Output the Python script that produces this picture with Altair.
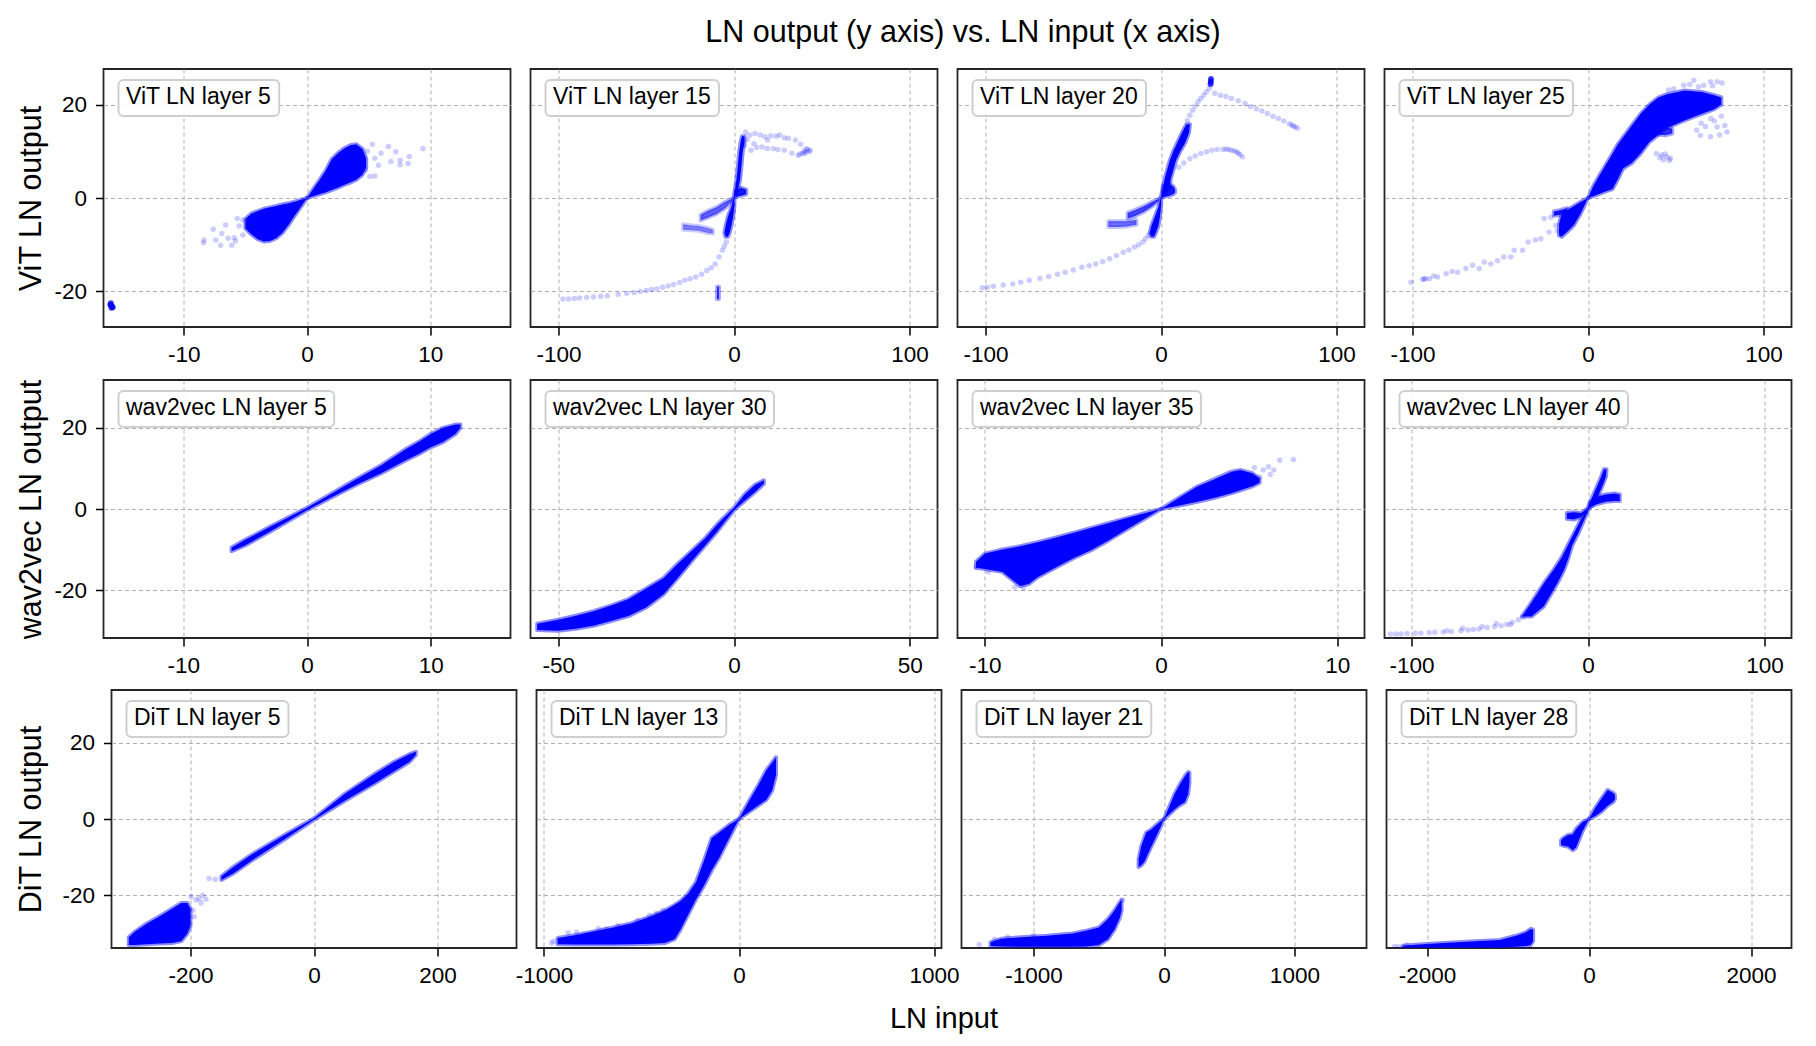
import altair as alt
import pandas as pd

FONT = "Liberation Sans"
BLUE = "#0000ff"

# ------------------------------------------------------------------
# Layout text / axes
# ------------------------------------------------------------------
TITLE = "LN output (y axis) vs. LN input (x axis)"
XTITLE = "LN input"
ROW_TITLES = ["ViT LN output", "wav2vec LN output", "DiT LN output"]
PANEL_LABELS = [
    ["ViT LN layer 5", "ViT LN layer 15", "ViT LN layer 20", "ViT LN layer 25"],
    ["wav2vec LN layer 5", "wav2vec LN layer 30", "wav2vec LN layer 35", "wav2vec LN layer 40"],
    ["DiT LN layer 5", "DiT LN layer 13", "DiT LN layer 21", "DiT LN layer 28"],
]
X_LIMITS = [[16.5, 116, 116, 116], [16.45, 57.9, 11.55, 115.3], [328, 1038, 1553, 2500]]
X_TICK_STEP = [[10, 100, 100, 100], [10, 50, 10, 100], [200, 1000, 1000, 2000]]
Y_LIMITS = [27.6, 31.8, 33.8]
Y_TICKS = [-20, 0, 20]

# ------------------------------------------------------------------
# Data: dense regions as (x, y_low, y_high) slices or (y, x_low, x_high)
# ------------------------------------------------------------------
# ViT layer 5
VIT5_UP = [(0, 0, 0), (0.5, 0.4, 1.9), (1.0, 0.8, 3.8), (1.5, 1.2, 5.8), (2.0, 1.7, 8.3),
           (2.5, 2.2, 9.6), (3.0, 2.8, 10.6), (3.5, 3.3, 11.3), (4.0, 3.9, 11.5),
           (4.5, 5.0, 10.5), (4.8, 6.5, 8.5)]
VIT5_DN = [(-5.0, -6.5, -4.5), (-4.5, -7.8, -3.3), (-4.0, -8.8, -2.8), (-3.5, -9.3, -2.3),
           (-3.0, -9.2, -2.0), (-2.5, -8.6, -1.7), (-2.0, -7.5, -1.4), (-1.5, -5.8, -1.1),
           (-1.0, -3.8, -0.8), (-0.5, -1.9, -0.4), (0, 0, 0)]
VIT5_PTS = [(-7.6, -6.7), (-6.9, -7.6), (-6.4, -8.6), (-5.9, -8.5), (-5.2, -7.9), (-8.35, -9.0),
            (-8.4, -9.6), (-7.4, -9.0), (-6.1, -10.1), (-5.65, -4.4), (-5.2, -4.7), (-7.0, -10.1),
            (-5.5, -6.0), (-5.8, -9.2), (-6.6, -5.8), (9.4, 10.6), (8.3, 8.9), (7.55, 8.1),
            (6.8, 7.8), (6.6, 11.0), (6.0, 9.6), (5.5, 8.5), (5.1, 4.6), (5.5, 4.7), (7.2, 9.9),
            (8.2, 7.4), (4.75, 6.0), (7.55, 7.1), (5.3, 11.5), (4.9, 10.0), (5.8, 7.0)]
VIT5_BLOB = [(-15.9, -22.5), (-15.8, -23.2), (-15.85, -23.5), (-15.9, -23.0), (-15.75, -23.4),
             (-15.95, -22.8)]

# ViT layer 15
VIT15_MAIN_H = [(-8.3, -4.8, -3.5), (-7.5, -5.5, -2.5), (-6, -4.8, -1.5), (-4, -3.5, -0.5),
                (-2, -1.5, 0.2), (0, -0.3, 0.3), (2, 0.6, 2.4), (4, 1.4, 3.5), (6, 2.0, 4.0),
                (8, 2.5, 4.5), (10, 3.0, 5.0), (12, 3.8, 6.0), (13.2, 4.5, 6.0)]
VIT15_BLOB = [(1, 0.2, 1.5), (4, 0.5, 2.2), (7, 0.8, 1.8)]
VIT15_BRANCH1 = [(-19, -4.8, -3.6), (-15, -4.2, -2.8), (-10, -3.4, -2.0), (-5, -2.2, -0.8),
                 (-1, -0.6, -0.1)]
VIT15_BRANCH2 = [(-29, -6.8, -5.6), (-24, -6.9, -5.9), (-20, -7.0, -6.0), (-15, -7.5, -6.4),
                 (-12, -7.6, -6.8)]
VIT15_STUB_H = [(-21.6, -9.7, -8.6), (-19.0, -9.6, -8.6)]
VIT15_ARC = [(6.6, 14.1), (9, 13.5), (12, 13.8), (15, 13.5), (17.7, 13.1), (21, 13.3), (24, 13.2),
             (26, 13.5), (28.7, 12.9), (31, 12.8), (35, 12.4), (38, 11.5), (41.3, 10.6),
             (42.9, 9.9), (40, 9.5), (36.6, 9.1), (33, 9.6), (28.7, 10.2), (25, 10.4),
             (22.4, 10.6), (19, 10.6), (16.1, 10.9), (13, 10.8), (9.8, 10.2), (19.2, 12.4),
             (11.4, 11.6), (42, 10.3), (41, 9.8), (40, 10.1), (39, 9.6), (37.5, 9.4),
             (43.5, 10.2), (6, 11.3), (7.5, 12.5)]
VIT15_TAIL = [(-4.4, -9.4), (-5.5, -10.3), (-6.6, -11.2), (-8.5, -12.6), (-10.7, -14.1),
              (-13, -14.9), (-15.5, -15.5), (-18.5, -16.3), (-21.8, -16.9), (-25, -17.3),
              (-28, -17.6), (-31, -18.1), (-34.4, -18.5), (-37.5, -18.8), (-40.7, -19.1),
              (-44, -19.4), (-47, -19.6), (-50, -19.8), (-53.3, -20), (-57, -20.2),
              (-61.2, -20.4), (-66, -20.6), (-72.2, -20.9), (-76, -21.0), (-80.1, -21.2),
              (-84, -21.3), (-88, -21.4), (-91, -21.5), (-94.3, -21.6), (-97.5, -21.6)]

# ViT layer 20
VIT20_MAIN_H = [(-8.3, -5.5, -4.0), (-7.5, -6.5, -3.0), (-6, -5.5, -1.5), (-4, -3.5, -0.6),
                (-2, -1.5, 0), (0, -0.2, 0.2), (2, 1.0, 5.0), (4, 2.0, 5.5), (6, 3.5, 7.0),
                (8, 5.0, 8.5), (10, 7.0, 11.0), (12, 9.5, 14.0), (14, 12.0, 16.0),
                (15.8, 14.5, 16.5)]
VIT20_BLOB = [(1, 0.2, 2.5), (4, 0.4, 3.0), (7, 0.8, 2.5), (8, 1.2, 1.8)]
VIT20_BRANCH1 = [(-19, -4.4, -3.2), (-15, -3.9, -2.6), (-10, -3.0, -1.8), (-5, -1.8, -0.8),
                 (-1, -0.5, -0.1)]
VIT20_BRANCH2 = [(-30, -6.2, -5.0), (-25, -6.2, -5.0), (-20, -6.1, -5.0), (-14, -5.7, -4.7)]
VIT20_UPPER = [(15, 16.6), (16.5, 17.7), (18, 18.8), (19.5, 19.7), (21.1, 20.6), (22.7, 21.3),
               (24.3, 22), (25.8, 22.7), (27.4, 23.4), (28, 24.3), (28.2, 24.8),
               (28.6, 24.6), (30.6, 22.4), (33.8, 22), (37, 21.7), (40.1, 21.3),
               (44, 20.8), (47.9, 20.2), (51, 19.6), (54.3, 19.1), (57.5, 18.6), (60.6, 18.1),
               (63.8, 17.5), (66.9, 17), (70, 16.5), (73.2, 15.9), (75.5, 15.4), (77.9, 14.9),
               (76.5, 15.2), (74.5, 15.6)]
VIT20_PEAK = [(28.3, 24.4), (28.4, 25.0), (28.5, 25.5)]
VIT20_ARC = [(10.1, 6.6), (13, 7.5), (16.4, 8.4), (19.5, 9.0), (22.7, 9.5), (26, 9.9), (29, 10.2),
             (32, 10.4), (35.3, 10.4), (38.5, 10.4), (41.6, 10.1), (44, 9.6), (46.4, 8.8),
             (45, 9.3), (43, 9.9), (40, 10.2), (37, 10.5)]
VIT20_TAIL = [(-7.3, -8), (-8.8, -8.7), (-10.4, -9.4), (-12.7, -10), (-15.1, -10.5),
              (-18.3, -11.1), (-21.5, -11.6), (-25.4, -12.3), (-29.3, -13), (-33.2, -13.6),
              (-37.2, -14.1), (-41, -14.5), (-45.1, -14.8), (-50, -15.4), (-54.6, -15.9),
              (-59, -16.3), (-64, -16.8), (-69, -17.2), (-75.1, -17.6), (-80, -18),
              (-84.5, -18.4), (-90, -18.6), (-95.6, -18.9), (-99, -19.1), (-101.9, -19.2)]

# ViT layer 25
VIT25_MAIN = [(0, 0, 0), (3, 0.4, 2.5), (6, 0.8, 4.5), (10, 1.4, 7.0), (14, 1.9, 9.5),
              (17, 4.0, 11.5), (20, 6.3, 13.0), (25, 7.5, 15.5), (30, 9.5, 18.0),
              (35, 12.0, 20.0), (40, 13.5, 21.5), (45, 15.0, 22.2), (55, 16.6, 23.0),
              (65, 18.0, 22.7), (72, 19.0, 22.0), (76, 20.0, 21.5)]
VIT25_LOW = [(-16.5, -8.0, -5.5), (-15, -8.3, -3.4), (-12, -7.3, -2.6), (-8, -5.8, -1.7),
             (-4, -3.2, -0.8), (0, 0, 0)]
VIT25_ARM = [(-19.5, -3.8, -2.9), (-16, -3.6, -2.6), (-12, -3.0, -2.2)]
VIT25_BLOB = [(40, 13.6, 14.8), (44, 13.4, 15.2), (48, 13.8, 14.8)]
VIT25_PTS = [(39, 9.5), (41, 8.6), (43, 8.2), (45, 8.8), (46.5, 8.0), (44, 9.4), (42, 9.2),
             (47, 8.5), (60.3, 25.2), (69.8, 24.9), (73.6, 24.9), (76.4, 24.6), (66, 24.1),
             (54.6, 24.1), (48.9, 23.4), (46, 23.1), (58, 24.3), (63, 23.8), (71, 24.0),
             (79.2, 14.1), (73.6, 15.2), (69.8, 13.1), (64.1, 13.4), (75, 13.5), (78, 15.5),
             (72, 16.5), (67, 15.3), (62, 14.5), (76, 17.5), (70, 17.0), (64.5, 16.0)]
VIT25_TAIL = [(-21.2, -4.1), (-25, -4.4), (-18.4, -5.9), (-17.5, -7.0), (-22.2, -7.3),
              (-26.9, -8.7), (-30, -9.0), (-34.1, -9.4), (-37.3, -11.2), (-42.1, -11.2),
              (-44, -12.6), (-48, -12.6), (-51.6, -13.4), (-55.4, -14.1), (-59.1, -13.7),
              (-62, -15.1), (-65.8, -14.4), (-69.6, -15.1), (-74.3, -15.9), (-77.5, -15.7),
              (-80.9, -16.2), (-85.7, -16.9), (-88, -16.7), (-90.4, -17.3), (-92.5, -17.2),
              (-93.5, -17.4), (-94.2, -17.4), (-100.9, -18)]

# wav2vec layer 5
W5_MAIN = [(-6.1, -10.4, -9.5), (-5, -9.0, -7.6), (-3, -5.6, -4.4), (0, -0.3, 0.3),
           (2, 2.9, 3.8), (4, 6.0, 7.4), (6, 8.8, 10.8), (8, 12.0, 14.8), (9, 13.5, 16.5),
           (10, 15.2, 18.5), (11, 16.5, 20.0), (12, 18.5, 20.8), (12.4, 20.0, 20.8)]

# wav2vec layer 30
W30_MAIN = [(-56, -29.8, -28.3), (-50, -30.0, -27.3), (-45, -29.5, -26.3), (-40, -28.8, -25.2),
            (-35, -27.6, -23.8), (-30, -26.4, -22.2), (-25, -24.3, -19.6), (-20, -21.0, -17.0),
            (-16, -17.0, -13.5), (-12, -12.8, -10.3), (-8, -8.8, -7.0), (-5, -5.8, -4.0),
            (-3, -3.6, -2.2), (0, -0.3, 0.3), (3, 2.0, 3.6), (6, 4.2, 6.0), (8.5, 6.2, 7.1)]

# wav2vec layer 35
W35_UP = [(0, 0, 0), (1, 0.8, 2.7), (2, 1.7, 5.4), (3, 2.7, 7.3), (4, 3.9, 9.2), (4.5, 4.6, 9.6),
          (5.2, 5.6, 8.8), (5.6, 6.5, 7.5)]
W35_DN = [(-10.5, -14.5, -13.0), (-10, -14.8, -11.0), (-9, -15.5, -10.0), (-8, -19.0, -9.2),
          (-7.5, -18.5, -8.7), (-7, -16.8, -8.2), (-6, -14.5, -7.1), (-5, -12.2, -5.9),
          (-4, -10.2, -4.7), (-3, -7.8, -3.5), (-2, -5.2, -2.3), (-1, -2.6, -1.1), (0, 0, 0)]
W35_PTS = [(6.74, 12.0), (7.52, 12.2), (6.1, 10.4), (6.4, 9.6), (5.6, 7.9), (5.8, 9.6),
           (6.2, 8.5), (5.3, 10.2), (-10.5, -14.3), (-10.3, -13.2), (-9.8, -15.5),
           (-8.3, -19.3), (-7.8, -19.5)]

# wav2vec layer 40
W40_MAIN_H = [(-26.5, -37.5, -32.0), (-24, -33.5, -25.0), (-21, -29.0, -21.0),
              (-18, -24.5, -17.0), (-15, -19.5, -13.5), (-12, -15.0, -11.0), (-9, -11.5, -9.0),
              (-6, -8.0, -5.5), (-3, -4.5, -2.5), (0, -0.5, 0.5), (2, 1.5, 4.5), (4, 3.5, 6.5),
              (6, 5.5, 8.5), (8, 7.5, 10.2), (9.8, 9.0, 10.5)]
W40_RIGHT = [(1, 0.5, 1.5), (5, 1.2, 3.0), (10, 1.8, 3.6), (15, 2.0, 3.8), (18, 2.0, 3.6)]
W40_LEFT = [(-12, -2.4, -1.0), (-8, -2.6, -0.8), (-4, -2.0, -1.0), (-1, -0.8, -0.2)]
W40_TAIL = [(-36.7, -26.7), (-39.5, -27.3), (-42.9, -27.9), (-46, -28.4), (-49.2, -28.8),
            (-53, -29.0), (-57.1, -29.2), (-61.8, -29.6), (-65, -29.7), (-68, -29.8),
            (-72, -30.0), (-77.4, -30.2), (-82, -30.3), (-86.8, -30.4), (-90, -30.5),
            (-94.7, -30.6), (-98, -30.6), (-102.5, -30.7), (-106, -30.8), (-108.8, -30.8),
            (-111.9, -30.8), (-44, -28.5), (-52, -28.2), (-60, -29.0), (-71, -29.4),
            (-80, -30.0)]

# DiT layer 5
D5_BAND = [(-150, -16.0, -15.0), (-130, -14.2, -12.5), (-100, -10.8, -9.2), (-50, -5.6, -4.4),
           (0, -0.2, 0.2), (50, 4.8, 6.6), (100, 9.5, 12.0), (130, 12.5, 15.0),
           (155, 15.0, 17.0), (165, 16.8, 17.6)]
D5_CLOUD = [(-300, -33.0, -31.0), (-290, -33.0, -29.5), (-270, -32.8, -27.3),
            (-250, -32.6, -25.5), (-230, -32.5, -23.5), (-215, -32.0, -22.0),
            (-205, -30.0, -22.0), (-200, -28.0, -23.5)]
D5_PTS = [(-191, -21.2), (-186, -20.8), (-175, -21), (-196, -23.9), (-194, -25.6),
          (-199, -20.4), (-183, -22.0), (-170, -15.6), (-160, -15.8), (-180, -20.0)]

# DiT layer 13
D13_UP = [(0, 0, 0), (50, 1.8, 4.6), (100, 3.6, 9.0), (140, 5.0, 12.8), (170, 7.5, 14.8),
          (190, 11.5, 16.2)]
D13_DN = [(-930, -32.8, -31.2), (-850, -32.9, -30.5), (-750, -32.9, -29.5), (-650, -32.9, -28.5),
          (-550, -32.8, -27.3), (-450, -32.7, -25.5), (-380, -32.5, -24.0), (-330, -31.5, -22.5),
          (-300, -29.0, -21.5), (-260, -25.0, -19.5), (-220, -21.0, -16.5),
          (-180, -17.5, -11.0), (-140, -13.5, -5.0), (-100, -10.0, -3.5), (-50, -5.0, -1.5),
          (0, 0, 0)]
D13_PTS = [(-458, -25.2), (-577, -28.2), (-680, -28.9), (-833, -29.6), (-876, -29.8),
           (-389, -23.9), (-424, -24.7), (-950, -32), (-960, -32.5), (-620, -28.0),
           (-720, -28.7), (-520, -26.5)]

# DiT layer 21
D21_UP = [(0, 0, 0), (40, 1.2, 3.2), (80, 2.5, 6.5), (120, 3.6, 9.0), (160, 4.4, 11.2),
          (185, 6.5, 12.3), (195, 9.5, 12.2)]
D21_DN = [(-195, -12.6, -10.5), (-175, -12.2, -7.2), (-150, -11.2, -4.8), (-135, -10.0, -3.5),
          (-100, -7.4, -2.8), (-60, -4.6, -1.6), (-25, -2.0, -0.6), (0, 0, 0)]
D21_TAIL = [(-1330, -33.3, -32.3), (-1250, -33.4, -31.4), (-1100, -33.5, -31.0),
            (-900, -33.5, -30.6), (-700, -33.5, -30.0), (-600, -33.4, -29.3),
            (-500, -33.0, -28.4), (-430, -31.5, -26.2), (-380, -29.0, -24.0),
            (-340, -26.0, -21.8), (-325, -24.0, -21.2)]
D21_PTS = [(-1417, -32.9), (-317, -21.2), (-1300, -31.5), (-1200, -30.9), (-1000, -30.5)]

# DiT layer 28
D28_UP = [(0, 0, 0), (80, 0.8, 3.0), (160, 2.0, 5.5), (230, 3.5, 7.6), (300, 4.5, 6.8),
          (320, 5.2, 6.3)]
D28_DN = [(-345, -6.8, -5.6), (-320, -7.0, -5.0), (-260, -7.2, -4.2), (-200, -8.2, -4.0),
          (-160, -7.5, -2.6), (-80, -3.2, -0.8), (0, 0, 0)]
D28_TAIL = [(-2300, -33.7, -33.2), (-2100, -33.7, -32.9), (-1800, -33.7, -32.5),
            (-1400, -33.7, -32.0), (-1100, -33.6, -31.7), (-900, -33.5, -30.6),
            (-780, -33.3, -29.7), (-720, -33.0, -28.8), (-690, -32.0, -29.0)]
D28_PTS = [(-2400, -33.4), (-2350, -33.5), (-2250, -33.0)]

# panel contents: vertical slices, horizontal slices, faint points, dense points
PANELS = [
    [
        dict(v=[(VIT5_UP, 1.0), (VIT5_DN, 1.0)], h=[], p=VIT5_PTS, d=VIT5_BLOB),
        dict(v=[(VIT15_BLOB, 0.9), (VIT15_BRANCH1, 0.6), (VIT15_BRANCH2, 0.45)],
             h=[(VIT15_MAIN_H, 1.0), (VIT15_STUB_H, 0.8)], p=VIT15_ARC + VIT15_TAIL, d=[]),
        dict(v=[(VIT20_BLOB, 0.9), (VIT20_BRANCH1, 0.7), (VIT20_BRANCH2, 0.55)],
             h=[(VIT20_MAIN_H, 1.0)], p=VIT20_UPPER + VIT20_ARC + VIT20_TAIL, d=VIT20_PEAK),
        dict(v=[(VIT25_MAIN, 1.0), (VIT25_LOW, 1.0), (VIT25_ARM, 0.9), (VIT25_BLOB, 0.8)],
             h=[], p=VIT25_PTS + VIT25_TAIL, d=[]),
    ],
    [
        dict(v=[(W5_MAIN, 1.0)], h=[], p=[], d=[]),
        dict(v=[(W30_MAIN, 1.0)], h=[], p=[], d=[]),
        dict(v=[(W35_UP, 1.0), (W35_DN, 1.0)], h=[], p=W35_PTS, d=[]),
        dict(v=[(W40_RIGHT, 1.0), (W40_LEFT, 1.0)], h=[(W40_MAIN_H, 1.0)], p=W40_TAIL, d=[]),
    ],
    [
        dict(v=[(D5_BAND, 1.0), (D5_CLOUD, 1.0)], h=[], p=D5_PTS, d=[]),
        dict(v=[(D13_UP, 1.0), (D13_DN, 1.0)], h=[], p=D13_PTS, d=[]),
        dict(v=[(D21_UP, 1.0), (D21_DN, 1.0), (D21_TAIL, 1.0)], h=[], p=D21_PTS, d=[]),
        dict(v=[(D28_UP, 1.0), (D28_DN, 1.0), (D28_TAIL, 1.0)], h=[], p=D28_PTS, d=[]),
    ],
]

# ------------------------------------------------------------------
# Styling / layout
# ------------------------------------------------------------------
PANEL_W = [407, 407, 405]
PANEL_H = 258
TITLE_PAD = [7.5, 7.5, 15.5]
ROW_SHIFT = [0, 0, 8]
LABEL_FS = 23
CHAR_W = {'V': .667, 'i': .222, 'T': .611, ' ': .278, 'L': .556, 'N': .722, 'l': .222,
          'a': .556, 'y': .5, 'e': .556, 'r': .333, 'w': .722, 'v': .5, 'c': .5, 'D': .722}


def text_width(s, fs):
    return sum(CHAR_W.get(ch, .556) for ch in s) * fs


def make_panel(r, c):
    lim = X_LIMITS[r][c]
    step = X_TICK_STEP[r][c]
    ylim = Y_LIMITS[r]
    xs = alt.Scale(domain=[-lim, lim], nice=False, zero=False)
    ys = alt.Scale(domain=[-ylim, ylim], nice=False, zero=False)
    xaxis = alt.Axis(values=[-step, 0, step], title=None, labelExpr="'' + datum.value",
                     labelFlush=False)
    if c == 0:
        yaxis = alt.Axis(values=Y_TICKS, title=ROW_TITLES[r], titlePadding=TITLE_PAD[r],
                         labelExpr="'' + datum.value")
    else:
        yaxis = alt.Axis(values=Y_TICKS, title=None, labels=False, ticks=False, domain=False)

    def X(f):
        return alt.X(f, type="quantitative", scale=xs, axis=xaxis)

    def Y(f):
        return alt.Y(f, type="quantitative", scale=ys, axis=yaxis)

    spec = PANELS[r][c]
    layers = []
    for rows, op in spec["v"]:
        df = pd.DataFrame(rows, columns=["x", "lo", "hi"])
        layers.append(
            alt.Chart(df).mark_area(fill=BLUE, fillOpacity=op, stroke=BLUE, strokeWidth=4,
                                    strokeOpacity=0.45 * op, strokeJoin="round", clip=True)
            .encode(x=X("x"), y=Y("lo"), y2=alt.Y2("hi"))
        )
    for rows, op in spec["h"]:
        df = pd.DataFrame(rows, columns=["y", "lo", "hi"])
        layers.append(
            alt.Chart(df).mark_area(orient="horizontal", fill=BLUE, fillOpacity=op, stroke=BLUE,
                                    strokeWidth=4, strokeOpacity=0.45 * op, strokeJoin="round",
                                    clip=True)
            .encode(y=Y("y"), x=X("lo"), x2=alt.X2("hi"))
        )
    if spec["p"]:
        df = pd.DataFrame(spec["p"], columns=["x", "y"])
        layers.append(alt.Chart(df).mark_circle(color=BLUE, size=30, opacity=0.2, clip=True)
                      .encode(x=X("x"), y=Y("y")))
    if spec["d"]:
        df = pd.DataFrame(spec["d"], columns=["x", "y"])
        layers.append(alt.Chart(df).mark_circle(color=BLUE, size=34, opacity=0.75, clip=True)
                      .encode(x=X("x"), y=Y("y")))

    label = PANEL_LABELS[r][c]
    bw = text_width(label, LABEL_FS) + 15
    lab = pd.DataFrame({"t": [label]})
    layers.append(
        alt.Chart(lab).mark_rect(fill="white", fillOpacity=0.85, stroke="#cfcfcf",
                                 strokeWidth=2, cornerRadius=5)
        .encode(x=alt.value(15), x2=alt.value(15 + bw), y=alt.value(11), y2=alt.value(47))
    )
    layers.append(
        alt.Chart(lab).mark_text(align="left", baseline="alphabetic", fontSize=LABEL_FS,
                                 font=FONT, color="black")
        .encode(x=alt.value(22.5), y=alt.value(34.8), text="t:N")
    )
    return alt.layer(*layers).properties(width=PANEL_W[r], height=PANEL_H)


def make_row(r):
    panels = alt.hconcat(*[make_panel(r, c) for c in range(4)], spacing=20, bounds="flush")
    if ROW_SHIFT[r] <= 0:
        return panels
    spacer = alt.Chart(pd.DataFrame({"v": [0]})).mark_point(opacity=0).encode(
        x=alt.X("v:Q", axis=None), y=alt.Y("v:Q", axis=None)
    ).properties(width=1, height=PANEL_H, view=alt.ViewBackground(strokeOpacity=0))
    return alt.hconcat(spacer, panels, spacing=ROW_SHIFT[r] - 1, bounds="flush")


rows = [make_row(r) for r in range(3)]

inner = alt.vconcat(*rows, spacing=11).properties(
    title=alt.TitleParams(XTITLE, orient="bottom", fontSize=29, font=FONT, fontWeight="normal",
                          baseline="top", offset=17, anchor="middle", dx=40)
)

chart = alt.vconcat(inner).properties(
    title=alt.TitleParams(TITLE, fontSize=30.5, font=FONT, fontWeight="normal", anchor="middle",
                          offset=20, dx=59),
    padding={"left": 7.5, "top": 9, "right": 5, "bottom": 0},
).configure_view(
    stroke="#262626", strokeWidth=1.8
).configure_axis(
    grid=True, gridColor="#b0b0b0", gridDash=[4, 3], gridWidth=1, domain=False,
    tickColor="#000000", tickSize=8, tickWidth=1.5,
    labelFont=FONT, labelFontSize=22.5, labelColor="#000000",
    titleFont=FONT, titleFontSize=30.5, titleFontWeight="normal", titleColor="#000000",
).configure_axisX(
    labelPadding=8.5
).configure_axisY(
    labelPadding=9
).configure_title(
    font=FONT, color="#000000"
)

chart.save("out.html", embed_options={"renderer": "svg", "actions": False})
